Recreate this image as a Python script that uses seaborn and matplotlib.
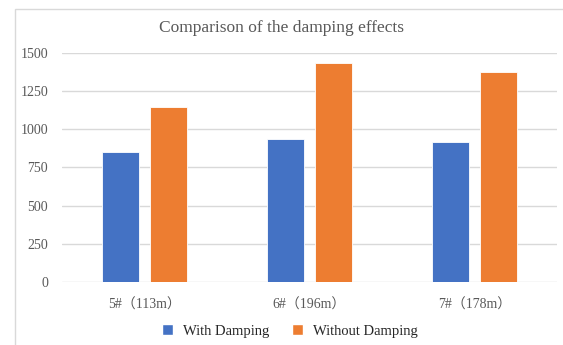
import pandas as pd
import matplotlib.pyplot as plt
import seaborn as sns
from matplotlib.patches import Rectangle, Patch

# data
sites = ["5#（113m）", "6#（196m）", "7#（178m）"]
with_damping = [850, 935, 915]
without_damping = [1145, 1435, 1375]
series = ["With Damping", "Without Damping"]
colors = ["#4472C4", "#ED7D31"]

df = pd.DataFrame({
    "site": sites * 2,
    "value": with_damping + without_damping,
    "case": [series[0]] * len(sites) + [series[1]] * len(sites),
})

sns.set_style("white")
plt.rcParams["font.family"] = ["Liberation Serif", "Noto Sans CJK SC", "DejaVu Sans"]
txt = "#595959"

fig = plt.figure(figsize=(5.63, 3.45), dpi=100)
ax = fig.add_axes([0.110, 0.183, 0.879, 0.663])

# chart border like the office chart frame
fig.patches.append(Rectangle((15 / 563, -0.1), 1.2, 1 - 9 / 345 + 0.1,
                             transform=fig.transFigure, fill=False,
                             edgecolor="#D9D9D9", linewidth=1))

sns.barplot(data=df, x="site", y="value", hue="case", palette=colors,
            hue_order=series, width=0.576, gap=0.22, ax=ax, legend=False,
            saturation=1, edgecolor="white", linewidth=0.6)

ax.set_ylim(0, 1500)
ax.set_yticks([0, 250, 500, 750, 1000, 1250, 1500])
ax.yaxis.grid(True, color="#D9D9D9", linewidth=1)
ax.set_axisbelow(True)
for s in ax.spines.values():
    s.set_visible(False)
ax.tick_params(length=0, colors=txt, labelsize=10)
ax.tick_params(axis="x", pad=12)
ax.tick_params(axis="y", pad=10)
ax.set_xlabel("")
ax.set_ylabel("")

fig.text(0.5, 1 - 28 / 345, "Comparison of the damping effects", ha="center",
         va="center", fontsize=12.5, color=txt)

# legend
handles = [Patch(facecolor=c, label=l) for c, l in zip(colors, series)]
fig.legend(handles=handles, loc="center", bbox_to_anchor=(0.515, 1 - 331 / 345),
           ncol=2, frameon=False, fontsize=10.5, handlelength=0.7, handleheight=0.7,
           columnspacing=1.6, handletextpad=0.7, labelcolor="#262626")

fig.savefig("out.png", dpi=100)
